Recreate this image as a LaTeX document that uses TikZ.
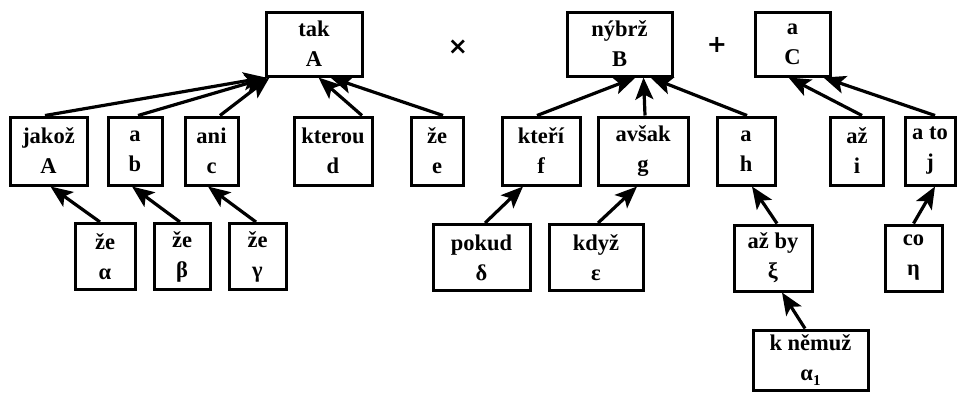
\documentclass[tikz,border=0pt]{standalone}
\usepackage{fontspec}
\setmainfont{Liberation Serif}
\newfontfamily\opfont{DejaVu Sans}
\usetikzlibrary{arrows.meta}
\begin{document}
\begin{tikzpicture}[x=1pt,y=-1pt,
  box/.style={draw, line width=3pt, inner sep=0pt, align=center,
    font=\fontsize{22.5}{30}\selectfont\bfseries},
  arr/.style={line width=3.2pt, -{Stealth[length=22pt,width=18pt,inset=5pt]}},
  op/.style={font=\opfont\fontsize{24}{26}\selectfont\bfseries}]
\useasboundingbox (0,0) rectangle (957,392);
% top row
\node[box, minimum width=96pt, minimum height=64pt] (tak) at (314,44) {tak\\A};
\node[op] (times) at (458,47) {×};
\node[box, minimum width=105pt, minimum height=64pt] (nybrz) at (619.5,44) {nýbrž\\B};
\node[op] (plus) at (717,45) {+};
\node[box, minimum width=75pt, minimum height=64pt] (aC) at (792.5,44) {a\\C};
% second row
\node[box, minimum width=77pt, minimum height=68pt] (jakoz) at (48.5,151) {jakož\\A};
\node[box, minimum width=54pt, minimum height=68pt] (ab) at (135,151) {a\\b};
\node[box, minimum width=53pt, minimum height=68pt] (ani) at (211.5,151) {ani\\c};
\node[box, minimum width=78pt, minimum height=68pt] (kterou) at (333,151) {kterou\\d};
\node[box, minimum width=52pt, minimum height=68pt] (zee) at (437,151) {že\\e};
\node[box, minimum width=78pt, minimum height=68pt] (kteri) at (541,151) {kteří\\f};
\node[box, minimum width=90pt, minimum height=68pt] (avsak) at (643,151) {avšak\\g};
\node[box, minimum width=58pt, minimum height=68pt] (ah) at (746,151) {a\\h};
\node[box, minimum width=53pt, minimum height=68pt] (azi) at (857,151) {až\\i};
\node[box, minimum width=50pt, minimum height=68pt] (ato) at (930,151) {a to\\j};
% third row
\node[box, minimum width=60pt, minimum height=66pt] (zea) at (105,256.5) {že\\α};
\node[box, minimum width=56pt, minimum height=66pt] (zeb) at (182,256.5) {že\\β};
\node[box, minimum width=57pt, minimum height=66pt] (zeg) at (257.5,256.5) {že\\γ};
\node[box, minimum width=97pt, minimum height=66pt] (pokud) at (481.5,257.5) {pokud\\δ};
\node[box, minimum width=94pt, minimum height=66pt] (kdyz) at (596,257.5) {když\\ε};
\node[box, minimum width=78pt, minimum height=66pt] (azby) at (773,258) {až by\\ξ};
\node[box, minimum width=57pt, minimum height=66pt] (co) at (913.5,258) {co\\η};
% fourth row
\node[box, minimum width=115pt, minimum height=60pt] (knemuz) at (810.5,360) {k němuž\\α\raisebox{-5pt}{\fontsize{15}{15}\selectfont 1}};
% arrows to tak
\draw[arr] ([xshift=-3.5pt]jakoz.north) -- ([xshift=1pt]tak.south west);
\draw[arr] ([xshift=3pt]ab.north) -- ([xshift=3pt]tak.south west);
\draw[arr] ([xshift=8.5pt]ani.north) -- ([xshift=5pt]tak.south west);
\draw[arr] ([xshift=29pt]kterou.north) -- ([xshift=54pt]tak.south west);
\draw[arr] ([xshift=6pt]zee.north) -- ([xshift=66pt]tak.south west);
% arrows to nybrz
\draw[arr] ([xshift=-4pt]kteri.north) -- ([xshift=70pt]nybrz.south west);
\draw[arr] ([xshift=2pt]avsak.north) -- ([xshift=78pt]nybrz.south west);
\draw[arr] ([xshift=1pt]ah.north) -- ([xshift=85pt]nybrz.south west);
% arrows to aC
\draw[arr] ([xshift=5pt]azi.north) -- ([xshift=35pt]aC.south west);
\draw[arr] ([xshift=5pt]ato.north) -- ([xshift=70pt]aC.south west);
% lower arrows
\draw[arr] ([xshift=-5pt]zea.north) -- ([xshift=2pt]jakoz.south);
\draw[arr] ([xshift=-2pt]zeb.north) -- ([xshift=-3pt]ab.south);
\draw[arr] ([xshift=-1.5pt]zeg.north) -- ([xshift=-3.5pt]ani.south);
\draw[arr] ([xshift=3.5pt]pokud.north) -- ([xshift=-18pt]kteri.south);
\draw[arr] ([xshift=2pt]kdyz.north) -- ([xshift=-6pt]avsak.south);
\draw[arr] ([xshift=4pt]azby.north) -- ([xshift=6pt]ah.south);
\draw[arr] (co.north) -- ([xshift=5pt]ato.south);
\draw[arr] ([xshift=-5.5pt]knemuz.north) -- ([xshift=9pt]azby.south);
\end{tikzpicture}
\end{document}
